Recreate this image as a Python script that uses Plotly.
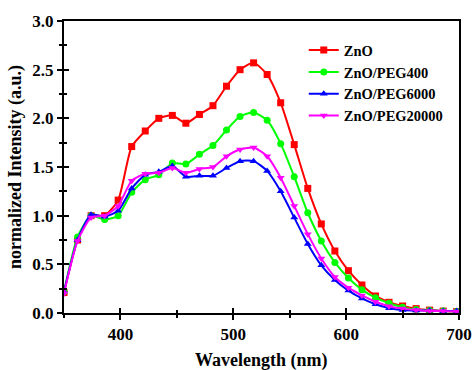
import plotly.graph_objects as go

wavelength = [350, 362, 374, 386, 398, 410, 422, 434, 446, 458, 470, 482, 494, 506, 518,
              530, 542, 554, 566, 578, 590, 602, 614, 626, 638, 650, 662, 674, 686, 698]

zno = [0.21, 0.75, 1.00, 1.00, 1.16, 1.71, 1.87, 2.00, 2.03, 1.95, 2.04, 2.13, 2.33, 2.50, 2.57,
       2.45, 2.16, 1.73, 1.28, 0.915, 0.637, 0.435, 0.288, 0.175, 0.11, 0.072, 0.045, 0.03, 0.02, 0.015]
peg400 = [0.22, 0.78, 1.00, 0.96, 1.00, 1.24, 1.37, 1.42, 1.54, 1.53, 1.63, 1.72, 1.88, 2.02, 2.06,
          1.98, 1.74, 1.40, 1.03, 0.74, 0.52, 0.36, 0.24, 0.157, 0.10, 0.06, 0.035, 0.025, 0.02, 0.015]
peg6000 = [0.22, 0.75, 1.01, 0.99, 1.05, 1.28, 1.42, 1.45, 1.51, 1.40, 1.41, 1.41, 1.49, 1.56, 1.56,
           1.46, 1.25, 0.98, 0.71, 0.49, 0.34, 0.23, 0.15, 0.09, 0.05, 0.03, 0.025, 0.025, 0.02, 0.02]
peg20000 = [0.20, 0.74, 0.98, 1.00, 1.10, 1.36, 1.43, 1.44, 1.49, 1.44, 1.48, 1.50, 1.61, 1.68, 1.70,
            1.61, 1.39, 1.10, 0.81, 0.56, 0.37, 0.26, 0.18, 0.116, 0.07, 0.045, 0.03, 0.02, 0.02, 0.015]

x_ticks = [400, 500, 600, 700]
y_ticks = [0.0, 0.5, 1.0, 1.5, 2.0, 2.5, 3.0]

series = [
    ("ZnO", zno, "#ff0000", "square"),
    ("ZnO/PEG400", peg400, "#00ff00", "circle"),
    ("ZnO/PEG6000", peg6000, "#0000ff", "triangle-up"),
    ("ZnO/PEG20000", peg20000, "#ff00ff", "triangle-down"),
]

FONT = "Liberation Serif"
fig = go.Figure()
for name, vals, color, sym in series:
    fig.add_trace(go.Scatter(
        x=wavelength, y=vals, name=name, mode="lines+markers",
        line=dict(color=color, width=2, shape="spline", smoothing=0.6),
        marker=dict(color=color, symbol=sym, size=7),
    ))

# invisible trace for overlay axes (inner ticks)
fig.add_trace(go.Scatter(x=[350], y=[0], xaxis="x2", yaxis="y2", mode="markers",
                         marker=dict(opacity=0), showlegend=False, hoverinfo="skip"))

axis_common = dict(showgrid=False, zeroline=False, showline=True, linecolor="black", automargin=False,
                   linewidth=2, ticks="outside", tickwidth=1.5, tickcolor="black", ticklen=5,
                   tickfont=dict(family=FONT, size=17, color="black", weight="bold"))

fig.update_layout(
    width=473, height=370,
    margin=dict(l=64, r=14, t=21, b=57, autoexpand=False),
    paper_bgcolor="white", plot_bgcolor="white",
    xaxis=dict(range=[350, 700], tickvals=x_ticks, mirror=True,
               minor=dict(tickvals=[350, 450, 550, 650], ticklen=3, ticks="outside", tickcolor="black", tickwidth=1.5),
               **axis_common),
    yaxis=dict(range=[0, 3.0], tickvals=y_ticks, tickformat=".1f", mirror=True,
               minor=dict(tickvals=[0.25, 0.75, 1.25, 1.75, 2.25, 2.75], ticklen=3, ticks="outside", tickcolor="black", tickwidth=1.5),
               **axis_common),
    xaxis2=dict(overlaying="x", matches="x", side="bottom", showgrid=False, zeroline=False, showline=False,
                ticks="inside", ticklen=5, tickwidth=1.5, tickcolor="black", showticklabels=False,
                tickvals=x_ticks, automargin=False,
                minor=dict(tickvals=[450, 550, 650], ticklen=3, ticks="inside", tickcolor="black", tickwidth=1.5)),
    yaxis2=dict(overlaying="y", matches="y", side="left", showgrid=False, zeroline=False, showline=False,
                ticks="inside", ticklen=5, tickwidth=1.5, tickcolor="black", showticklabels=False,
                tickvals=y_ticks[1:-1], automargin=False,
                minor=dict(tickvals=[0.25, 0.75, 1.25, 1.75, 2.25, 2.75], ticklen=3, ticks="inside", tickcolor="black", tickwidth=1.5)),
    legend=dict(x=0.607, y=0.955, xanchor="left", yanchor="top", bgcolor="rgba(0,0,0,0)",
                font=dict(family=FONT, size=14.5, color="black", weight="bold"),
                tracegroupgap=0, itemwidth=30),
    showlegend=True,
    annotations=[
        dict(text="Wavelength (nm)", xref="paper", yref="paper", x=0.5, y=0, xanchor="center", yanchor="middle",
             yshift=-47, showarrow=False, font=dict(family=FONT, size=18, color="black", weight="bold")),
        dict(text="normalized Intensity (a.u.)", xref="paper", yref="paper", x=0, y=0.5, xanchor="center",
             yanchor="middle", xshift=-49, textangle=-90, showarrow=False,
             font=dict(family=FONT, size=18, color="black", weight="bold")),
    ],
)

fig.write_html("out.html")
